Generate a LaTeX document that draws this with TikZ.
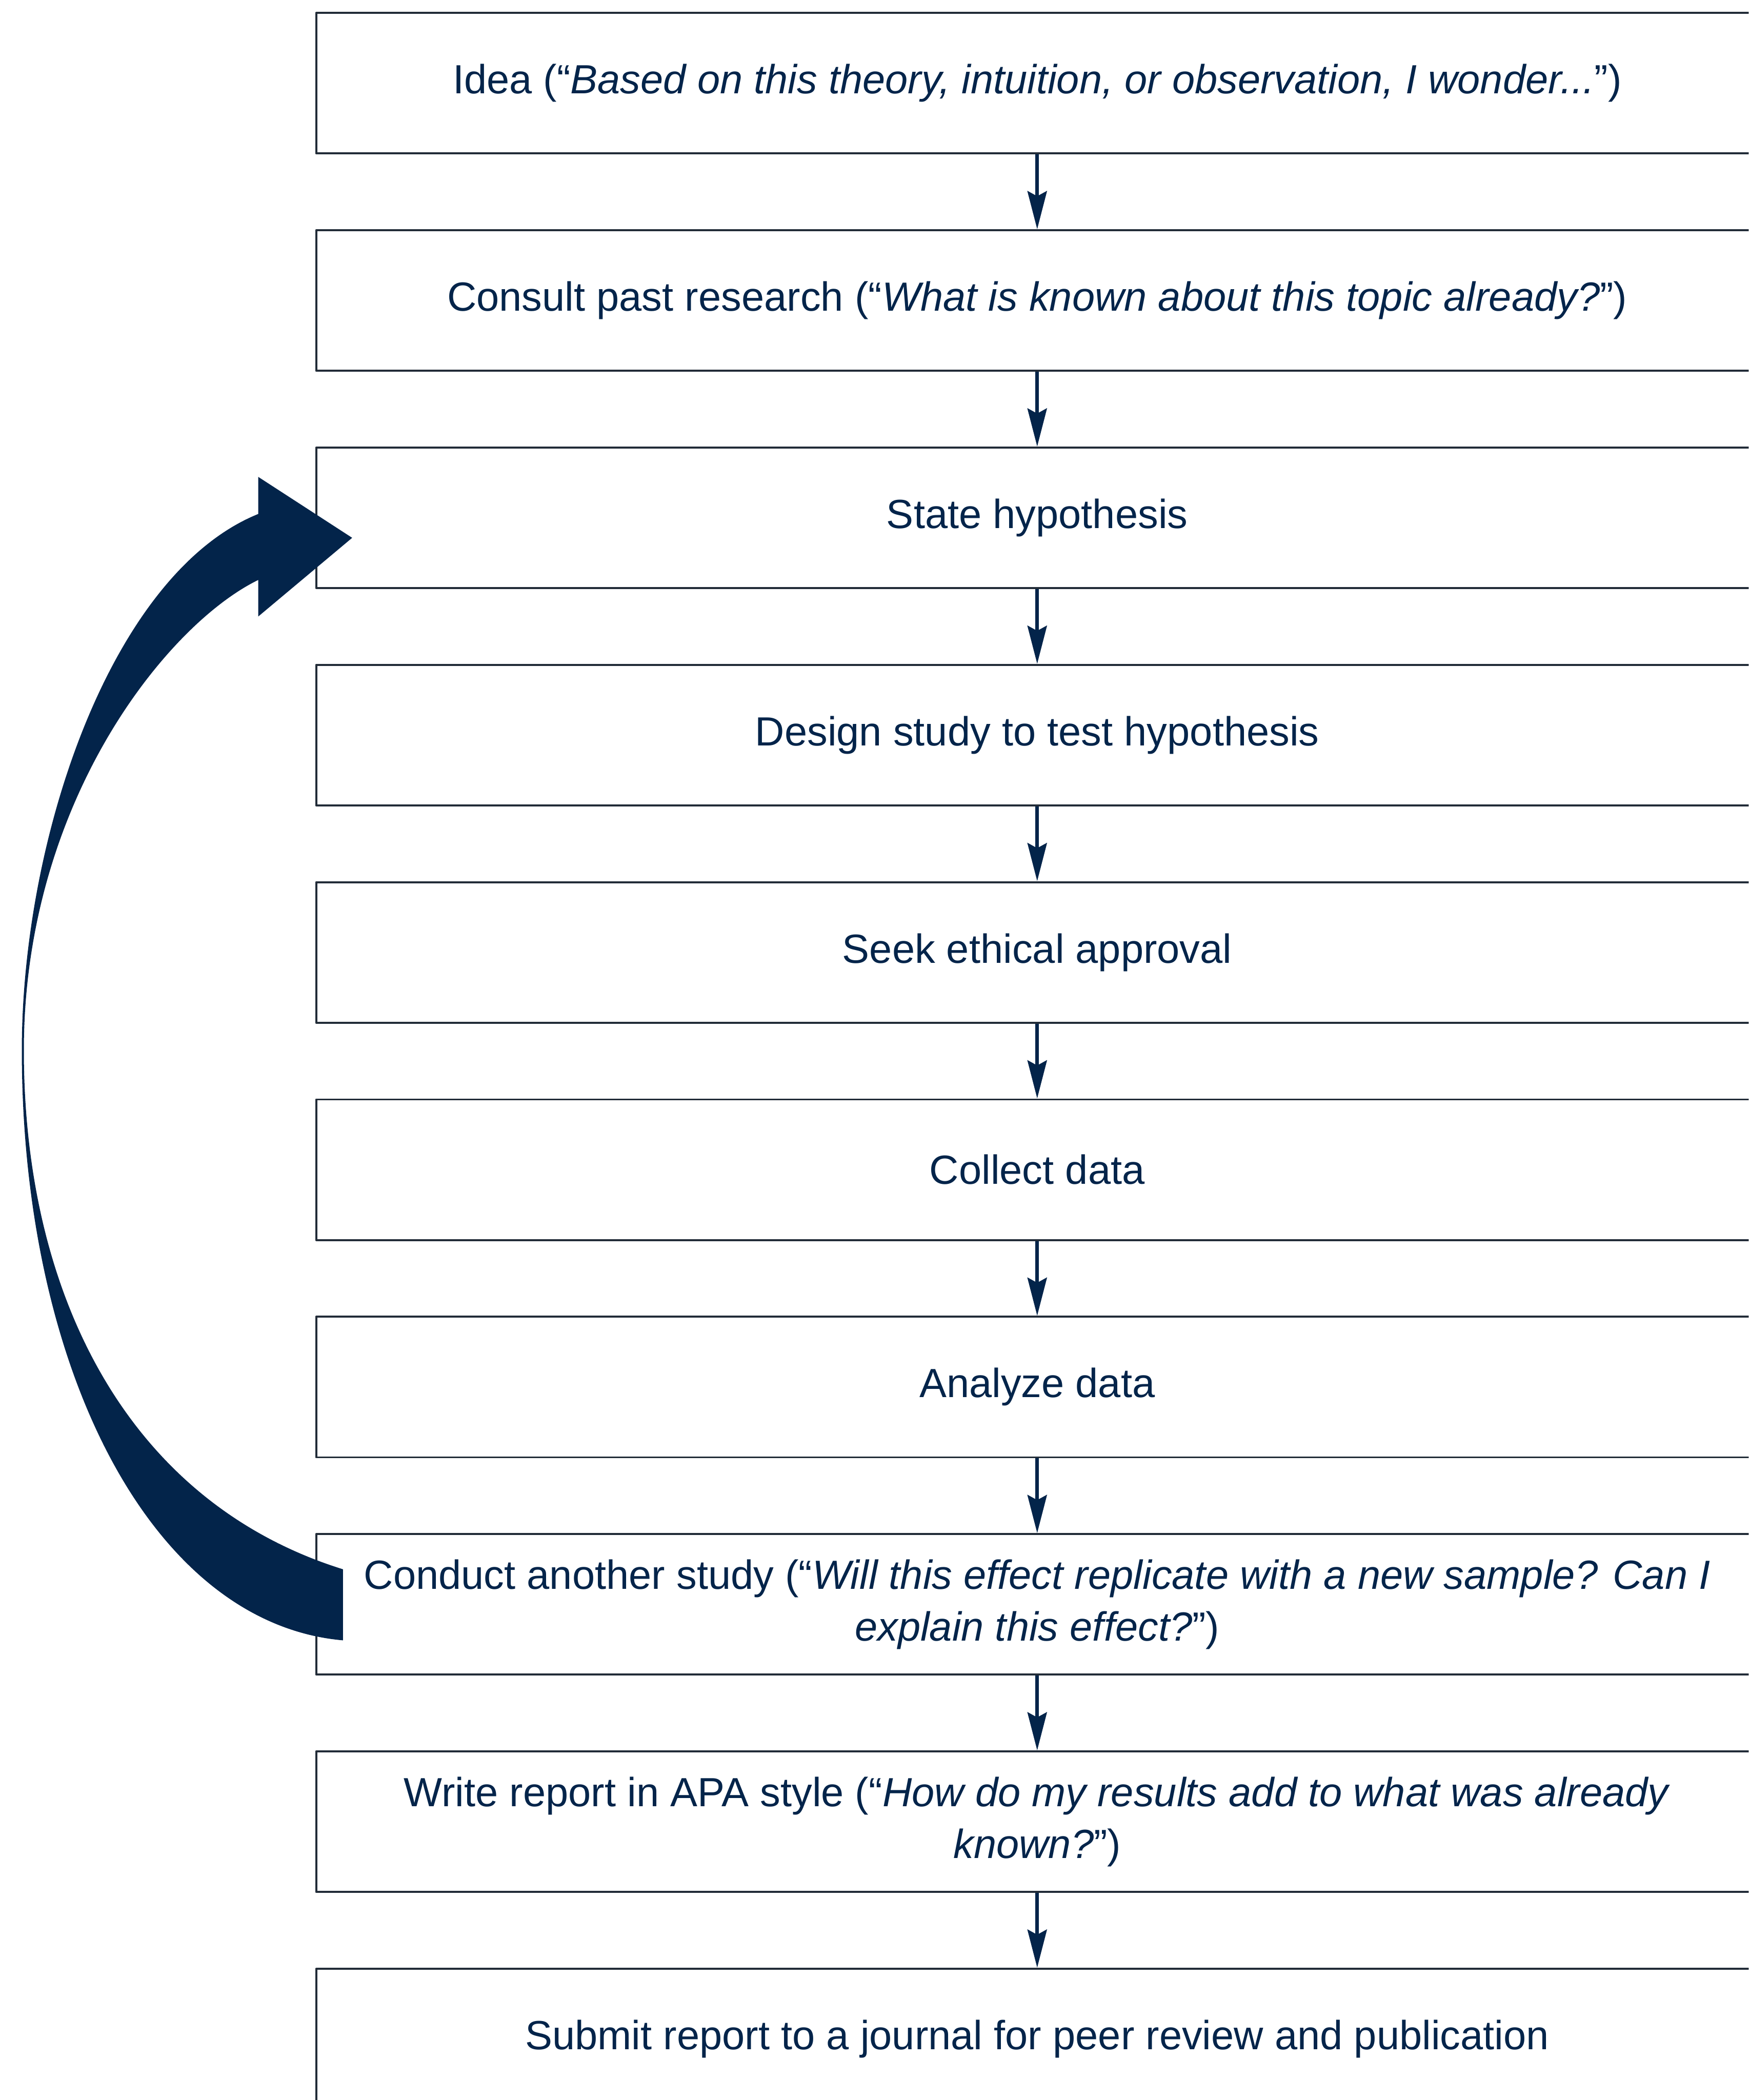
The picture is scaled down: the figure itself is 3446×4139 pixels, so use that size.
\documentclass[tikz,border=0pt]{standalone}
\usepackage{fontspec}
\setmainfont{Liberation Sans}
\usetikzlibrary{arrows.meta}

\definecolor{navy}{HTML}{03244A}
\definecolor{boxline}{HTML}{222C38}

\tikzset{
  flowbox/.style={draw=boxline,line width=0.4mm,minimum width=284.2mm,
    minimum height=27.7mm,inner sep=0pt,align=center,text=navy,
    font=\fontsize{22.85}{29}\selectfont},
  flowarrow/.style={draw=navy,line width=0.7mm,
    -{Stealth[length=7.5mm,width=3.8mm,inset=1mm]}},
  loopback/.style={fill=navy}
}

\begin{document}
\begin{tikzpicture}[x=0.1mm,y=-0.1mm,line join=round]
  \clip (0,0) rectangle (3446,4139);
  \fill[white] (0,0) rectangle (3446,4139);
  % steps
  \node[flowbox] (idea) at (2044,164) {Idea (“\textit{Based on this theory, intuition, or observation, I wonder...}”)};
  \node[flowbox] (consult) at (2044,592.3) {Consult past research (“\textit{What is known about this topic already?}”)};
  \node[flowbox] (hypo) at (2044,1020.6) {State hypothesis};
  \node[flowbox] (design) at (2044,1448.9) {Design study to test hypothesis};
  \node[flowbox] (ethics) at (2044,1877.2) {Seek ethical approval};
  \node[flowbox] (collect) at (2044,2305.5) {Collect data};
  \node[flowbox] (analyze) at (2044,2733.8) {Analyze data};
  \node[flowbox] (another) at (2044,3162.1) {Conduct another study (“\textit{Will this effect replicate with a new sample? Can I}\\\textit{explain this effect?}”)};
  \node[flowbox] (write) at (2044,3590.4) {Write report in APA style (“\textit{How do my results add to what was already}\\\textit{known?}”)};
  \node[flowbox] (submit) at (2044,4018.7) {Submit report to a journal for peer review and publication};
  \foreach \a/\b in {idea/consult,consult/hypo,hypo/design,design/ethics,ethics/collect,
    collect/analyze,analyze/another,another/write,write/submit}
    \draw[flowarrow] (\a) -- (\b);
  % loop back to the hypothesis
  \fill[loopback] (676,3093) .. controls (250,2960) and (47,2550) .. (47,2070)
    .. controls (47,1580) and (330,1230) .. (509,1143)
    -- (509,1215) -- (694,1060) -- (509,940) -- (509,1013)
    .. controls (220,1130) and (43,1650) .. (43,2070)
    .. controls (43,2700) and (300,3200) .. (676,3233) -- cycle;
\end{tikzpicture}
\end{document}
